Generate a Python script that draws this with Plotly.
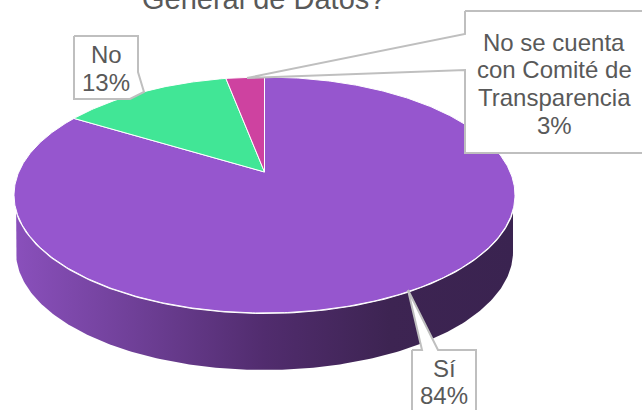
import numpy as np
import plotly.graph_objects as go

categories = ["Sí", "No", "No se cuenta<br>con Comité de<br>Transparencia"]
values = [83.7, 13.3, 3.0]
slice_colors = ["#9656CE", "#41E696", "#CE42A0"]
title_text = "General de Datos?"

W, H = 642, 410
CX, CY, RX, RY, K = 264.5, 195.0, 250.5, 118.0, 0.195
DEPTH = 57.0
TEXT = "#595959"
BORDER = "#BFBFBF"
LINE_STEP = 27.8


def rim(theta):
    """Perspective projection of the pie's circle, theta clockwise from 12 o'clock."""
    u, v = np.sin(theta), np.cos(theta)
    den = 1 + K * v
    return CX + RX * np.sqrt(1 - K * K) * u / den, CY - RY * (v + K) / den


fig = go.Figure()

# side wall
t = np.linspace(-np.pi / 2, np.pi / 2, 200)
bx = CX + (RX - 2) * np.sin(t)
by = CY + DEPTH + RY * np.cos(t)
wx = np.concatenate([[CX - RX + 2], bx, [CX + RX - 2]])
wy = np.concatenate([[CY], by, [CY]])
fig.add_trace(go.Scatter(
    x=wx, y=wy, mode="lines", fill="toself", line=dict(width=0),
    fillgradient=dict(type="horizontal", start=14, stop=515, colorscale=[
        [0, "#8A50BC"], [0.25, "#6E3F96"], [0.5, "#512C6E"], [0.75, "#3D2452"], [1, "#3A2350"]]),
    hoverinfo="skip"))

# white rim under the top face
a = np.linspace(0, 2 * np.pi, 360)
fig.add_trace(go.Scatter(x=rim(a)[0], y=rim(a)[1], mode="lines", fill="toself",
                         fillcolor="#FFFFFF", line=dict(color="#FFFFFF", width=2), hoverinfo="skip"))

# slices
total = sum(values)
start = 0.0
apex_x, apex_y = CX, CY - RY * K
for val, col in zip(values, slice_colors):
    span = 2 * np.pi * val / total
    th = np.linspace(start, start + span, max(int(val * 6), 12))
    x, y = rim(th)
    fig.add_trace(go.Scatter(
        x=np.concatenate([[apex_x], x, [apex_x]]),
        y=np.concatenate([[apex_y], y, [apex_y]]),
        mode="lines", fill="toself", fillcolor=col,
        line=dict(color="#FFFFFF", width=1), hoverinfo="skip"))
    start += span

# data-label callouts: box outline with wedge pointing at its slice
callouts = [
    ([412, 422, 408, 438, 476, 476, 412, 412], [350, 350, 290, 350, 350, 420, 420, 350]),
    ([74, 138, 138, 144, 130, 74, 74], [36, 36, 72, 92, 99, 99, 36]),
    ([465, 650, 650, 465, 465, 247, 465, 465], [11, 11, 153, 153, 70, 78, 34, 11]),
]
for cx_, cy_ in callouts:
    fig.add_trace(go.Scatter(x=cx_, y=cy_, mode="lines", fill="toself", fillcolor="#FFFFFF",
                             line=dict(color=BORDER, width=2), hoverinfo="skip"))

label_pos = [(444, 368), (106, 54.5), (554, 42)]
for cat, val, (lx, ly) in zip(categories, values, label_pos):
    lines = cat.split("<br>") + [f"{round(val)}%"]
    for i, line in enumerate(lines):
        fig.add_annotation(x=lx, y=ly + i * LINE_STEP, text=line, showarrow=False,
                           font=dict(family="Liberation Sans", size=24, color=TEXT),
                           xanchor="center", yanchor="middle")

fig.add_annotation(x=263, y=0, yshift=1.5, text=title_text, showarrow=False,
                   font=dict(family="Liberation Sans", size=29, color=TEXT),
                   xanchor="center", yanchor="middle")

fig.update_layout(
    width=W, height=H, showlegend=False, paper_bgcolor="white", plot_bgcolor="white",
    margin=dict(l=0, r=0, t=0, b=0),
    xaxis=dict(range=[0, W], visible=False, fixedrange=True),
    yaxis=dict(range=[H, 0], visible=False, fixedrange=True),
)
fig.write_html("out.html", post_script="document.body.style.margin='0';document.body.style.overflow='hidden';",
               config={"displayModeBar": False})
